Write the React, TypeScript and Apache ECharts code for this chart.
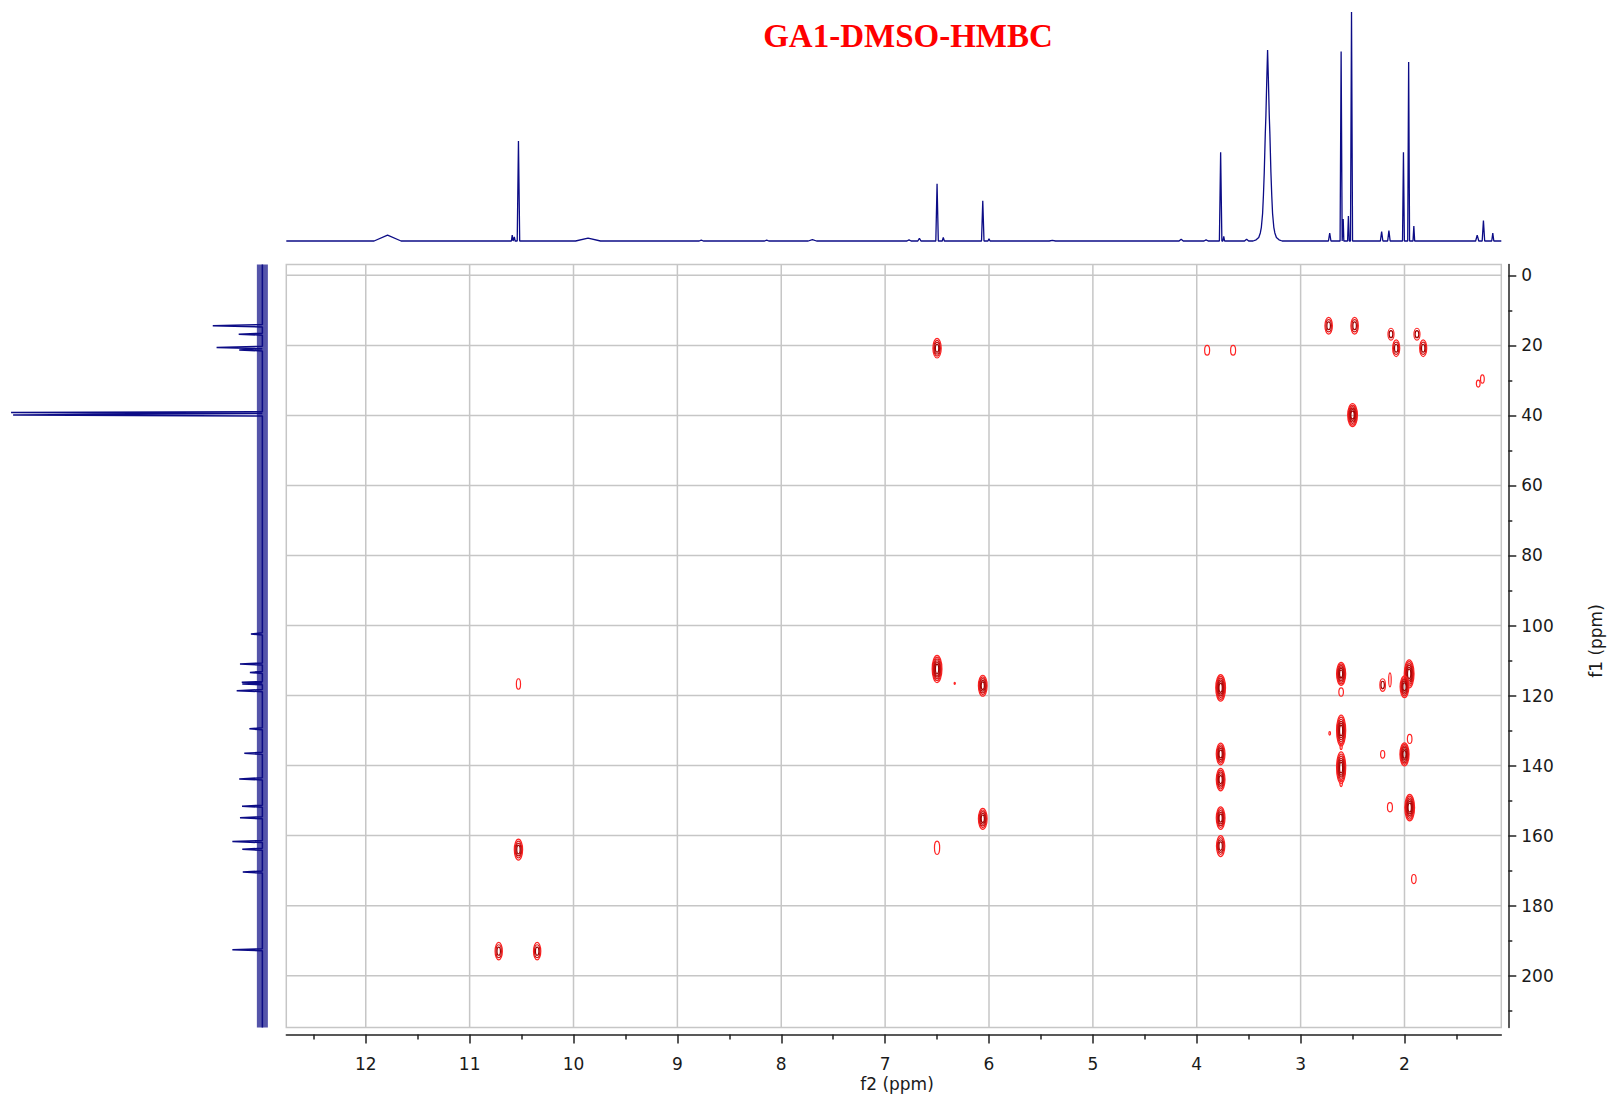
import React, { useEffect, useRef } from "react";
import * as echarts from "echarts";

// ---- axis ranges (ppm) ----
const F2_MIN = 1.068;
const F2_MAX = 12.765;
const F1_MIN = -3.1;
const F1_MAX = 214.8;

// ---- tick values ----
const f2MajorTicks = [2, 3, 4, 5, 6, 7, 8, 9, 10, 11, 12];
const f2MinorTicks = [1.5, 2.5, 3.5, 4.5, 5.5, 6.5, 7.5, 8.5, 9.5, 10.5, 11.5, 12.5];
const f1MajorTicks = [0, 20, 40, 60, 80, 100, 120, 140, 160, 180, 200];
const f1MinorTicks = [10, 30, 50, 70, 90, 110, 130, 150, 170, 190, 210];

// ---- HMBC cross peaks: [f2 ppm, f1 ppm, contour levels, half-width f2 (ppm), half-height f1 (ppm)] ----
const crossPeaks = [
  [6.5, 20.8, 4, 0.04, 2.8],
  [3.9, 21.4, 1, 0.024, 1.4],
  [3.65, 21.4, 1, 0.024, 1.4],
  [2.73, 14.4, 3, 0.036, 2.4],
  [2.48, 14.4, 3, 0.036, 2.4],
  [2.13, 16.8, 2, 0.029, 1.7],
  [2.08, 20.8, 3, 0.034, 2.4],
  [1.88, 16.8, 2, 0.029, 1.7],
  [1.82, 20.8, 3, 0.034, 2.4],
  [1.29, 30.9, 1, 0.018, 1.0],
  [1.25, 29.6, 1, 0.018, 1.2],
  [2.5, 39.9, 6, 0.047, 3.3],
  [10.53, 116.7, 1, 0.02, 1.5],
  [6.5, 112.4, 6, 0.047, 3.9],
  [6.33, 116.5, 1, 0.006, 0.3],
  [6.06, 117.2, 5, 0.042, 3.0],
  [3.77, 117.8, 6, 0.047, 3.8],
  [3.77, 136.7, 5, 0.042, 3.1],
  [3.77, 144.0, 5, 0.042, 3.2],
  [3.77, 155.0, 5, 0.042, 3.2],
  [3.77, 163.0, 4, 0.04, 3.0],
  [6.06, 155.2, 5, 0.042, 3.0],
  [6.5, 163.5, 1, 0.025, 1.9],
  [10.53, 164.0, 4, 0.04, 3.0],
  [10.72, 193.0, 3, 0.035, 2.5],
  [10.35, 193.0, 3, 0.035, 2.5],
  [2.61, 113.8, 6, 0.044, 3.3],
  [2.61, 119.0, 1, 0.022, 1.2],
  [2.61, 130.0, 6, 0.044, 4.4],
  [2.61, 134.6, 1, 0.01, 0.8],
  [2.61, 140.6, 6, 0.044, 4.5],
  [2.61, 145.0, 1, 0.012, 1.0],
  [2.72, 130.8, 1, 0.008, 0.5],
  [2.21, 117.0, 2, 0.027, 1.8],
  [2.14, 115.5, 1, 0.012, 2.0],
  [2.21, 136.8, 1, 0.02, 1.1],
  [2.14, 151.9, 1, 0.024, 1.3],
  [1.955, 113.8, 6, 0.047, 4.0],
  [2.0, 117.5, 5, 0.042, 3.1],
  [1.95, 132.4, 1, 0.022, 1.3],
  [2.0, 136.8, 6, 0.044, 3.3],
  [1.95, 152.0, 6, 0.047, 3.8],
  [1.91, 172.4, 1, 0.022, 1.3],
];

// ---- 1H projection peaks: [ppm, intensity, half-width at base (ppm)] ----
const protonPeaks = [
  [11.79, 2.6, 0.13],
  [10.59, 2.6, 0.008],
  [10.57, 1.8, 0.008],
  [10.53, 43.7, 0.012],
  [9.86, 1.3, 0.12],
  [8.77, 0.4, 0.02],
  [8.14, 0.4, 0.02],
  [7.7, 0.6, 0.04],
  [6.77, 0.5, 0.02],
  [6.67, 1.2, 0.015],
  [6.5, 25.0, 0.012],
  [6.44, 1.6, 0.01],
  [6.06, 17.6, 0.012],
  [6.0, 1.0, 0.01],
  [5.39, 0.3, 0.03],
  [4.15, 0.8, 0.02],
  [3.91, 0.5, 0.02],
  [3.77, 38.7, 0.012],
  [3.74, 2.0, 0.008],
  [3.52, 0.8, 0.02],
  [2.72, 3.5, 0.012],
  [2.61, 82.7, 0.01],
  [2.59, 9.6, 0.006],
  [2.54, 10.9, 0.008],
  [2.51, 100, 0.01],
  [2.22, 4.1, 0.012],
  [2.15, 4.5, 0.012],
  [2.01, 38.7, 0.009],
  [1.96, 78.2, 0.009],
  [1.91, 6.5, 0.008],
  [1.3, 2.6, 0.015],
  [1.24, 8.9, 0.012],
  [1.15, 3.5, 0.01],
];

// ---- broad water signal (3.32 ppm) read point by point: [ppm, intensity] ----
const waterShape = [
  [3.458, 0], [3.428, 0.5], [3.403, 1.5], [3.388, 3.5], [3.378, 6], [3.366, 12],
  [3.358, 20], [3.35, 30], [3.34, 47], [3.334, 55], [3.326, 70], [3.318, 83.4],
  [3.31, 70], [3.302, 55], [3.296, 47], [3.286, 30], [3.278, 20], [3.27, 12],
  [3.258, 6], [3.248, 3.5], [3.233, 1.5], [3.208, 0.5], [3.178, 0],
];

// ---- 13C projection peaks: [f1 ppm, intensity, half-width (ppm)] ----
const carbonPeaks = [
  [14.4, 19.5, 0.35],
  [16.8, 9.3, 0.3],
  [20.6, 18, 0.35],
  [21.3, 9.1, 0.3],
  [39.2, 98.8, 0.25],
  [39.9, 98.0, 0.25],
  [102.4, 4.5, 0.3],
  [111.0, 8.8, 0.3],
  [113.4, 4.9, 0.3],
  [116.2, 8.1, 0.24],
  [116.7, 7.9, 0.24],
  [118.6, 10.1, 0.3],
  [129.5, 5.1, 0.3],
  [136.5, 7.1, 0.3],
  [143.8, 9.1, 0.3],
  [151.6, 8.0, 0.3],
  [154.9, 8.8, 0.3],
  [161.7, 11.8, 0.3],
  [163.9, 7.9, 0.3],
  [170.4, 7.7, 0.3],
  [192.6, 11.8, 0.3],
];

const TITLE = "GA1-DMSO-HMBC";
const NAVY = "#0c0c86";
const GRID_GRAY = "#c6c6c6";
const AXIS_COLOR = "#222222";
const LABEL_FONT = "DejaVu Sans";

function mix(a: number[], b: number[], t: number) {
  const c = a.map((v, i) => Math.round(v + (b[i] - v) * t));
  return `rgb(${c[0]},${c[1]},${c[2]})`;
}

function buildProtonLine() {
  const pts: number[][] = [[F2_MAX, 0], [F2_MIN, 0]];
  protonPeaks.forEach(([p, h, w]) => {
    pts.push([p + w, 0], [p, h], [p - w, 0]);
  });
  waterShape.forEach((pt) => pts.push(pt));
  pts.sort((a, b) => b[0] - a[0]);
  return pts;
}

function buildCarbonLine() {
  const pts: number[][] = [[0, F1_MIN], [0, F1_MAX]];
  carbonPeaks.forEach(([c, h, w]) => {
    pts.push([0, c - w], [h, c], [0, c + w]);
  });
  pts.sort((a, b) => a[1] - b[1]);
  return pts;
}

export default function App() {
  const ref = useRef<HTMLDivElement>(null);

  useEffect(() => {
    document.body.style.margin = "0";
    document.body.style.overflow = "hidden";
    if (!ref.current) return;
    const chart = echarts.init(ref.current, undefined, { renderer: "svg" });

    const mainLeft = 286.3;
    const mainTop = 264.5;
    const mainWidth = 1215;
    const mainHeight = 763;

    const hiddenAxis = {
      axisLine: { show: false },
      axisTick: { show: false },
      axisLabel: { show: false },
      splitLine: { show: false },
    };

    const option: any = {
      animation: false,
      backgroundColor: "#ffffff",
      grid: [
        {
          left: mainLeft,
          top: mainTop,
          width: mainWidth,
          height: mainHeight,
          show: true,
          borderColor: GRID_GRAY,
          borderWidth: 1.5,
          backgroundColor: "transparent",
        },
        { left: mainLeft, top: 12, width: mainWidth, height: 229 },
        { left: 8, top: mainTop, width: 262, height: mainHeight },
      ],
      xAxis: [
        {
          type: "value",
          gridIndex: 0,
          min: F2_MIN,
          max: F2_MAX,
          inverse: true,
          position: "bottom",
          offset: 7,
          axisLine: { show: true, onZero: false, lineStyle: { color: AXIS_COLOR, width: 1.5 } },
          axisTick: { show: true, customValues: f2MajorTicks, length: 9, lineStyle: { color: AXIS_COLOR, width: 1.5 } },
          axisLabel: {
            show: true,
            customValues: f2MajorTicks,
            margin: 21,
            fontSize: 17,
            fontFamily: LABEL_FONT,
            color: "#1a1a1a",
          },
          splitLine: { show: false },
        },
        {
          type: "value",
          gridIndex: 0,
          min: F2_MIN,
          max: F2_MAX,
          inverse: true,
          position: "bottom",
          offset: 7,
          axisLine: { show: false, onZero: false },
          axisTick: { show: true, customValues: f2MinorTicks, length: 5, lineStyle: { color: AXIS_COLOR, width: 1.5 } },
          axisLabel: { show: false },
          splitLine: { show: false },
        },
        { type: "value", gridIndex: 1, min: F2_MIN, max: F2_MAX, inverse: true, ...hiddenAxis },
        { type: "value", gridIndex: 2, min: -3, max: 100, inverse: true, ...hiddenAxis },
      ],
      yAxis: [
        {
          type: "value",
          gridIndex: 0,
          min: F1_MIN,
          max: F1_MAX,
          inverse: true,
          position: "right",
          offset: 7,
          axisLine: { show: true, onZero: false, lineStyle: { color: AXIS_COLOR, width: 1.5 } },
          axisTick: { show: true, customValues: f1MajorTicks, length: 8, lineStyle: { color: AXIS_COLOR, width: 1.5 } },
          axisLabel: {
            show: true,
            customValues: f1MajorTicks,
            margin: 13,
            fontSize: 17,
            fontFamily: LABEL_FONT,
            color: "#1a1a1a",
          },
          splitLine: { show: false },
        },
        {
          type: "value",
          gridIndex: 0,
          min: F1_MIN,
          max: F1_MAX,
          inverse: true,
          position: "right",
          offset: 7,
          axisLine: { show: false, onZero: false },
          axisTick: { show: true, customValues: f1MinorTicks, length: 4, lineStyle: { color: AXIS_COLOR, width: 1.5 } },
          axisLabel: { show: false },
          splitLine: { show: false },
        },
        { type: "value", gridIndex: 1, min: 0, max: 100, ...hiddenAxis },
        { type: "value", gridIndex: 2, min: F1_MIN, max: F1_MAX, inverse: true, ...hiddenAxis },
      ],
      series: [
        {
          type: "custom",
          name: "f2 grid",
          xAxisIndex: 0,
          yAxisIndex: 0,
          z: 1,
          silent: true,
          clip: false,
          data: f2MajorTicks.map((v) => [v, 100]),
          encode: { x: 0, y: 1 },
          renderItem: (params: any, api: any) => {
            const cs = params.coordSys;
            const p = api.coord([api.value(0), 100]);
            return {
              type: "line",
              shape: { x1: p[0], y1: cs.y, x2: p[0], y2: cs.y + cs.height },
              style: { stroke: GRID_GRAY, lineWidth: 1.5 },
            };
          },
        },
        {
          type: "custom",
          name: "f1 grid",
          xAxisIndex: 0,
          yAxisIndex: 0,
          z: 1,
          silent: true,
          clip: false,
          data: f1MajorTicks.map((v) => [6, v]),
          encode: { x: 0, y: 1 },
          renderItem: (params: any, api: any) => {
            const cs = params.coordSys;
            const p = api.coord([6, api.value(1)]);
            return {
              type: "line",
              shape: { x1: cs.x, y1: p[1], x2: cs.x + cs.width, y2: p[1] },
              style: { stroke: GRID_GRAY, lineWidth: 1.5 },
            };
          },
        },
        {
          type: "custom",
          name: "HMBC",
          xAxisIndex: 0,
          yAxisIndex: 0,
          z: 3,
          silent: true,
          clip: true,
          data: crossPeaks,
          encode: { x: 0, y: 1 },
          renderItem: (params: any, api: any) => {
            const f2 = api.value(0);
            const f1 = api.value(1);
            const n = api.value(2);
            const hw = api.value(3);
            const hh = api.value(4);
            const c = api.coord([f2, f1]);
            const e = api.coord([f2 + hw, f1 + hh]);
            const rx = Math.abs(e[0] - c[0]);
            const ry = Math.abs(e[1] - c[1]);
            const children: any[] = [];
            for (let i = 0; i < n; i++) {
              const s = 1 - i * (0.8 / n);
              const t = n > 1 ? i / (n - 1) : 0;
              children.push({
                type: "ellipse",
                shape: { cx: c[0], cy: c[1], rx: Math.max(rx * s, 0.6), ry: Math.max(ry * s, 0.6) },
                style: {
                  fill: "none",
                  stroke: mix([255, 35, 35], [160, 0, 0], t),
                  lineWidth: 1.2,
                },
              });
            }
            return { type: "group", children };
          },
        },
        {
          type: "line",
          name: "1H",
          xAxisIndex: 2,
          yAxisIndex: 2,
          showSymbol: false,
          clip: false,
          silent: true,
          data: buildProtonLine(),
          lineStyle: { color: NAVY, width: 1.3 },
        },
        {
          type: "line",
          name: "13C noise",
          xAxisIndex: 3,
          yAxisIndex: 3,
          showSymbol: false,
          clip: false,
          silent: true,
          data: [[0, F1_MIN], [0, F1_MAX]],
          lineStyle: { color: NAVY, width: 11, opacity: 0.7 },
        },
        {
          type: "line",
          name: "13C",
          xAxisIndex: 3,
          yAxisIndex: 3,
          showSymbol: false,
          clip: false,
          silent: true,
          data: buildCarbonLine(),
          lineStyle: { color: NAVY, width: 1.5 },
        },
      ],
      graphic: [
        {
          type: "text",
          x: 908,
          y: 36,
          style: {
            text: TITLE,
            fill: "#ff0000",
            fontSize: 33,
            fontWeight: "bold",
            fontFamily: "Liberation Serif",
            align: "center",
            verticalAlign: "middle",
          },
        },
        {
          type: "text",
          x: 897,
          y: 1084,
          style: {
            text: "f2 (ppm)",
            fill: "#1a1a1a",
            fontSize: 17,
            fontFamily: LABEL_FONT,
            align: "center",
            verticalAlign: "middle",
          },
        },
        {
          type: "text",
          x: 1596,
          y: 641,
          rotation: Math.PI / 2,
          style: {
            text: "f1 (ppm)",
            fill: "#1a1a1a",
            fontSize: 17,
            fontFamily: LABEL_FONT,
            align: "center",
            verticalAlign: "middle",
          },
        },
      ],
    };

    chart.setOption(option);
    return () => chart.dispose();
  }, []);

  return (
    <div
      ref={ref}
      style={{ position: "fixed", left: 0, top: 0, width: 1613, height: 1098, background: "#fff" }}
    />
  );
}
